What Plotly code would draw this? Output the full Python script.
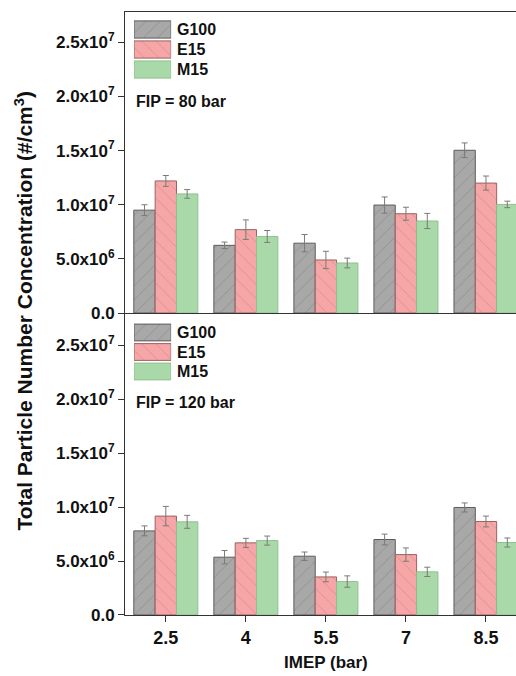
import plotly.graph_objects as go

# IMEP load points (bar) and the fuels compared
imep = ["2.5", "4", "5.5", "7", "8.5"]
fuels = ["G100", "E15", "M15"]

# Total particle number concentration (#/cm3), FIP = 80 bar
pn_80 = {
    "G100": [9.5e6, 6.25e6, 6.45e6, 9.97e6, 1.503e7],
    "E15": [1.22e7, 7.7e6, 4.9e6, 9.17e6, 1.2e7],
    "M15": [1.1e7, 7.07e6, 4.62e6, 8.5e6, 1.003e7],
}
err_80 = {
    "G100": [0.5e6, 0.3e6, 0.8e6, 0.75e6, 0.68e6],
    "E15": [0.5e6, 0.9e6, 0.8e6, 0.6e6, 0.65e6],
    "M15": [0.4e6, 0.55e6, 0.45e6, 0.7e6, 0.3e6],
}

# Total particle number concentration (#/cm3), FIP = 120 bar
pn_120 = {
    "G100": [7.8e6, 5.36e6, 5.45e6, 7.0e6, 9.97e6],
    "E15": [9.17e6, 6.69e6, 3.53e6, 5.6e6, 8.67e6],
    "M15": [8.64e6, 6.9e6, 3.1e6, 4.0e6, 6.72e6],
}
err_120 = {
    "G100": [0.46e6, 0.62e6, 0.39e6, 0.5e6, 0.42e6],
    "E15": [0.9e6, 0.42e6, 0.45e6, 0.62e6, 0.5e6],
    "M15": [0.6e6, 0.42e6, 0.53e6, 0.43e6, 0.42e6],
}

y_tickvals = [0, 5e6, 1e7, 1.5e7, 2e7, 2.5e7]
y_ticktext = ["0.0", "5.0x10<sup>6</sup>", "1.0x10<sup>7</sup>",
              "1.5x10<sup>7</sup>", "2.0x10<sup>7</sup>", "2.5x10<sup>7</sup>"]

FONT = "Liberation Sans, Arial, sans-serif"

styles = {
    "G100": dict(color="#a8a8a8", line=dict(color="#5c5c5c", width=1),
                 pattern=dict(shape="/", bgcolor="#a8a8a8", fgcolor="#707070",
                              size=10, solidity=0.08)),
    "E15": dict(color="#f6a6a6", line=dict(color="#9a6262", width=1),
                pattern=dict(shape="\\", bgcolor="#f6a6a6", fgcolor="#b87474",
                             size=10, solidity=0.08)),
    "M15": dict(color="#a9d9a9", line=dict(color="#8fc08f", width=1)),
}

fig = go.Figure()

panels = [
    (pn_80, err_80, "x2", "y2"),
    (pn_120, err_120, "x", "y"),
]
for values, errors, xa, ya in panels:
    for fuel in fuels:
        fig.add_trace(go.Bar(
            x=imep, y=values[fuel], name=fuel, xaxis=xa, yaxis=ya,
            marker=styles[fuel], showlegend=False,
            error_y=dict(type="data", array=errors[fuel], color="#7a7a7a",
                         thickness=1, width=3),
        ))

# Legend swatches: small horizontal bars on their own hidden axes
legend_axes = [("x3", "y3"), ("x4", "y4")]
for xa, ya in legend_axes:
    for fuel in fuels:
        fig.add_trace(go.Bar(
            x=[1], y=[fuel], orientation="h", xaxis=xa, yaxis=ya,
            marker=styles[fuel], width=0.86, offsetgroup="swatch",
            showlegend=False, hoverinfo="skip",
        ))

yaxis_common = dict(
    tickvals=y_tickvals, ticktext=y_ticktext, ticks="outside", ticklen=6,
    tickcolor="#333333", showline=True, linecolor="#333333", linewidth=1,
    showgrid=False, zeroline=False,
    tickfont=dict(family=FONT, size=17, color="#111111", weight="bold"),
)
x_range = [-0.51, 4.375]

split = 0.5008
fig.update_layout(
    width=516, height=676,
    margin=dict(l=125, r=0, t=12, b=61),
    paper_bgcolor="white", plot_bgcolor="white",
    barmode="group", bargap=0.2, bargroupgap=0,
    showlegend=False,
    xaxis=dict(domain=[0, 1], anchor="y", range=x_range, ticks="outside",
               ticklen=6, tickcolor="#333333", showline=True,
               linecolor="#333333", linewidth=1, showgrid=False,
               tickfont=dict(family=FONT, size=18, color="#111111",
                             weight="bold")),
    yaxis=dict(domain=[0, split], anchor="x", range=[0, 2.8e7],
               **yaxis_common),
    xaxis2=dict(domain=[0, 1], anchor="y2", range=x_range, ticks="",
                showticklabels=False, showline=True, mirror=True,
                linecolor="#333333", linewidth=1, showgrid=False),
    yaxis2=dict(domain=[split, 1], anchor="x2", range=[0, 2.78e7],
                **yaxis_common),
    xaxis3=dict(domain=[0.023, 0.118], anchor="y3", range=[0, 1],
                visible=False, fixedrange=True),
    yaxis3=dict(domain=[0.8872, 0.9884], anchor="x3", visible=False,
                autorange="reversed", fixedrange=True),
    xaxis4=dict(domain=[0.023, 0.118], anchor="y4", range=[0, 1],
                visible=False, fixedrange=True),
    yaxis4=dict(domain=[0.3864, 0.4859], anchor="x4", visible=False,
                autorange="reversed", fixedrange=True),
)

# Legend labels next to the swatches
for ya in ["y3", "y4"]:
    for fuel in fuels:
        fig.add_annotation(
            x=0.128, xref="paper", y=fuel, yref=ya, text=fuel,
            showarrow=False, xanchor="left", yanchor="middle",
            font=dict(family=FONT, size=16, color="#111111", weight="bold"),
        )

fig.add_annotation(x=0.023, xref="paper", y=0.851, yref="paper",
                   text="FIP = 80 bar", showarrow=False, xanchor="left",
                   yanchor="middle",
                   font=dict(family=FONT, size=16, color="#111111",
                             weight="bold"))
fig.add_annotation(x=0.023, xref="paper", y=0.3516, yref="paper",
                   text="FIP = 120 bar", showarrow=False, xanchor="left",
                   yanchor="middle",
                   font=dict(family=FONT, size=16, color="#111111",
                             weight="bold"))

# Shared y title and x title
fig.add_annotation(x=-0.258, xref="paper", y=0.505, yref="paper",
                   text="Total Particle Number Concentration (#/cm<sup>3</sup>)",
                   textangle=-90, showarrow=False, xanchor="center",
                   yanchor="middle",
                   font=dict(family=FONT, size=21, color="#111111",
                             weight="bold"))
fig.add_annotation(x=imep.index("5.5"), xref="x", y=-0.078, yref="paper",
                   text="IMEP (bar)", showarrow=False, xanchor="center",
                   yanchor="middle",
                   font=dict(family=FONT, size=17, color="#111111",
                             weight="bold"))

fig.write_html("out.html")
